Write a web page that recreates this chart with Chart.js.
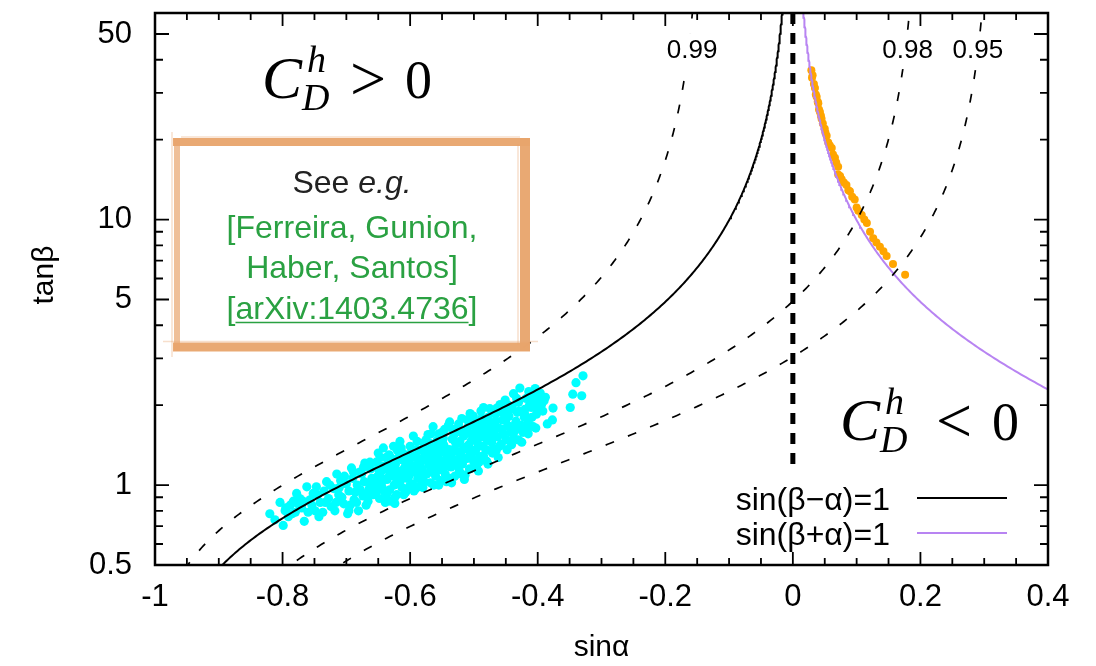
<!DOCTYPE html>
<html>
<head>
<meta charset="utf-8">
<script src="https://cdn.jsdelivr.net/npm/chart.js@4.4.1/dist/chart.umd.min.js"></script>
<style>
  html, body { margin: 0; padding: 0; background: #fff; }
  canvas { display: block; }
</style>
</head>
<body>
<canvas id="graficoTanBeta" width="1096" height="666"></canvas>
<script>
// axes
var sinAlphaTicks = [-1, -0.8, -0.6, -0.4, -0.2, 0, 0.2, 0.4];
var tanBetaTicks = [0.5, 1, 5, 10, 50];
var tanBetaMinor = [0.6, 0.7, 0.8, 0.9, 2, 3, 4, 6, 7, 8, 9, 20, 30, 40];

// contours sin(beta-alpha) = level, branch tells which side of alignment
var contourLevels = [0.99, 0.98, 0.95];
var contourBranch = [1, -1, -1];
var contourLabelX = [-0.158, 0.180, 0.290];
var contourLabelY = 43.5;

// scan points near sin(beta-alpha)=1  [sin alpha, tan beta]
var pointsMinusA = [
  [-0.820,0.78],[-0.812,0.74],[-0.804,0.86],[-0.799,0.705],[-0.796,0.80],[-0.791,0.76],[-0.788,0.84],
  [-0.783,0.87],[-0.780,0.79],[-0.776,0.85],[-0.773,0.89],[-0.770,0.82],[-0.766,0.73],[-0.762,0.985],
  [-0.760,0.79],[-0.757,0.88],[-0.754,0.84],[-0.749,0.80],[-0.747,0.985],[-0.745,0.92],[-0.741,0.86],
  [-0.737,0.79]
];
var pointsMinusB = [
  [-0.735,0.95],[-0.731,1.03],[-0.728,0.89],[-0.724,0.83],[-0.720,0.97],[-0.718,0.80],[-0.715,1.10],
  [-0.712,0.92],[-0.709,1.04],[-0.707,0.90],[-0.704,0.85],[-0.700,1.01],[-0.698,0.78],[-0.696,0.95],
  [-0.692,1.16],[-0.690,1.06],[-0.688,0.88],[-0.686,0.94],[-0.683,1.00],[-0.681,0.80],[-0.679,1.12],
  [-0.676,1.10],[-0.674,0.91],[-0.672,1.03],[-0.671,1.21],[-0.669,0.84],[-0.666,0.87],[-0.664,0.97],
  [-0.662,1.15],[-0.660,1.06]
];
var pointsMinusC = [
  [-0.658,0.92],[-0.655,0.99],[-0.653,1.22],[-0.651,1.08],[-0.650,1.32],[-0.648,0.89],[-0.646,1.12],
  [-0.645,1.02],[-0.643,1.18],[-0.641,0.95],[-0.639,0.86],[-0.638,1.27],[-0.636,1.05],[-0.634,1.14],
  [-0.632,0.96],[-0.631,0.87],[-0.629,1.26],[-0.627,1.09],[-0.625,1.00],[-0.623,1.20],[-0.621,0.92],
  [-0.620,1.35],[-0.618,1.13],[-0.616,1.46],[-0.615,1.04],[-0.613,0.98],[-0.611,1.24],[-0.609,1.16],
  [-0.607,0.94],[-0.605,0.96],[-0.604,1.30],[-0.602,1.08],[-0.600,1.40],[-0.598,1.19],[-0.596,1.01],
  [-0.595,1.53],[-0.593,1.12],[-0.591,0.97],[-0.590,1.27],[-0.588,1.06],[-0.586,1.35],[-0.585,0.99],
  [-0.583,1.22],[-0.581,1.15],[-0.579,1.44],[-0.578,1.03],[-0.576,1.30],[-0.574,1.10],[-0.572,1.55],
  [-0.570,1.19]
];
var pointsMinusD = [
  [-0.568,1.02],[-0.566,1.38],[-0.564,1.66],[-0.562,1.25],[-0.560,1.08],[-0.558,1.47],[-0.556,1.14],
  [-0.554,1.33],[-0.552,1.04],[-0.550,1.58],[-0.549,1.21],[-0.547,1.41],[-0.545,1.10],[-0.543,1.03],
  [-0.541,1.29],[-0.540,1.68],[-0.538,1.73],[-0.536,1.17],[-0.534,1.49],[-0.532,1.36],[-0.530,1.08],
  [-0.528,1.24],[-0.527,1.61],[-0.525,1.44],[-0.523,1.13],[-0.521,1.31],[-0.519,1.78],[-0.518,1.20],
  [-0.516,1.53],[-0.514,1.09],[-0.512,1.39],[-0.511,1.26],[-0.509,1.66],[-0.507,1.15],[-0.506,1.86],
  [-0.504,1.47],[-0.502,1.33],[-0.500,1.22],[-0.498,1.58],[-0.496,1.18],[-0.494,1.72],[-0.493,1.40],
  [-0.491,1.28],[-0.489,1.90],[-0.487,1.52],[-0.485,1.29],[-0.485,1.96],[-0.483,1.63],[-0.481,1.36],
  [-0.480,1.23]
];
var pointsMinusE = [
  [-0.478,1.80],[-0.476,1.47],[-0.475,1.94],[-0.473,1.58],[-0.471,1.32],[-0.470,1.37],[-0.468,1.70],
  [-0.466,1.85],[-0.465,1.35],[-0.463,1.52],[-0.461,1.64],[-0.459,2.01],[-0.457,1.43],[-0.455,1.76],
  [-0.454,1.55],[-0.452,1.90],[-0.451,2.09],[-0.449,1.48],[-0.447,1.67],[-0.445,1.82],[-0.443,1.58],
  [-0.441,1.42],[-0.440,1.97],[-0.438,2.21],[-0.436,1.60],[-0.434,1.74],[-0.432,1.88],[-0.430,2.05],
  [-0.428,2.32],[-0.426,1.68],[-0.423,1.58],[-0.421,1.80],[-0.420,1.93],[-0.418,2.12],[-0.415,1.72],
  [-0.413,2.00],[-0.410,1.96],[-0.408,2.22],[-0.407,1.66],[-0.404,2.31],[-0.402,2.15],[-0.402,1.85],
  [-0.398,2.06],[-0.394,2.01],[-0.390,2.08]
];
var pointsMinusF = [
  [-0.385,1.70],[-0.377,1.76],[-0.376,1.95],[-0.349,1.96],[-0.345,2.20],[-0.340,2.43],[-0.331,2.17],
  [-0.329,2.58]
];
var pointsMinusCore = [
  [-0.640,1.05],[-0.635,1.20],[-0.628,1.15],[-0.622,1.06],[-0.617,1.28],[-0.612,1.10],[-0.606,1.20],
  [-0.601,0.99],[-0.597,1.33],[-0.592,1.18],[-0.587,1.24],[-0.582,1.06],[-0.577,1.38],[-0.573,1.24],
  [-0.569,1.12],[-0.565,1.30],[-0.561,1.18],[-0.557,1.40],[-0.553,1.24],[-0.548,1.50],[-0.544,1.18],
  [-0.539,1.36],[-0.535,1.27],[-0.531,1.55],[-0.526,1.18],[-0.522,1.46],[-0.517,1.36],[-0.513,1.60],
  [-0.508,1.42],[-0.503,1.26],[-0.499,1.68],[-0.495,1.46],[-0.490,1.60],[-0.486,1.40],[-0.482,1.75],
  [-0.477,1.63],[-0.472,1.45]
];
var pointsMinusG = [
  [-0.795,0.82],[-0.785,0.78],[-0.778,0.93],[-0.768,0.87],[-0.752,0.93],[-0.743,0.76],[-0.733,0.86],
  [-0.726,1.00],[-0.716,0.86],[-0.711,0.98],[-0.703,1.08],[-0.694,0.84],[-0.689,1.12],[-0.684,0.86],
  [-0.678,0.96],[-0.673,1.17],[-0.668,0.93],[-0.663,1.22],[-0.657,1.04],[-0.652,0.95],[-0.647,1.27],
  [-0.642,1.38],[-0.637,0.92],[-0.633,1.30],[-0.626,1.40],[-0.624,0.90],[-0.619,1.02],[-0.614,1.38],
  [-0.610,0.92],[-0.603,1.14],[-0.599,1.27],[-0.594,0.95],[-0.589,1.46],[-0.584,1.12],[-0.580,0.98],
  [-0.575,1.48],[-0.571,1.35],[-0.567,1.56],[-0.563,1.00],[-0.559,1.28],[-0.555,1.56],[-0.551,1.15],
  [-0.546,1.62],[-0.542,1.25],[-0.537,1.06],[-0.533,1.62],[-0.529,1.45],[-0.524,1.70],[-0.520,1.10],
  [-0.515,1.25],[-0.510,1.76],[-0.505,1.56],[-0.501,1.82],[-0.497,1.36],[-0.492,1.22],[-0.488,1.78],
  [-0.484,1.52],[-0.479,1.48],[-0.474,1.72],[-0.469,1.58],[-0.464,1.95],[-0.460,1.40],[-0.456,1.62],
  [-0.450,1.75],[-0.446,2.00],[-0.442,1.66],[-0.437,1.50],[-0.433,2.12],[-0.429,1.90],[-0.425,1.45],
  [-0.419,1.62],[-0.414,2.25],[-0.409,1.80],[-0.405,2.05],[-0.400,1.95],[-0.396,2.22],[-0.392,1.90],
  [-0.388,2.14]
];
var pointsMinusH = [
  [-0.624,0.853],[-0.696,0.80],[-0.555,1.00],[-0.535,1.02],[-0.515,1.05],[-0.493,1.13],[-0.478,1.20],
  [-0.462,1.27],[-0.448,1.36],[-0.430,1.48],[-0.415,1.56],[-0.403,1.64],[-0.590,1.36],[-0.580,1.26],
  [-0.570,1.44],[-0.560,1.36],[-0.545,1.32],[-0.532,1.22],[-0.520,1.58],[-0.507,1.34],[-0.494,1.50],
  [-0.480,1.56],[-0.466,1.74],[-0.455,1.88],[-0.444,1.92],[-0.432,1.66],[-0.420,1.84],[-0.411,2.10],
  [-0.650,1.15],[-0.662,1.01],[-0.612,1.32],[-0.605,1.06],[-0.633,1.08],[-0.644,0.98],[-0.587,1.14],
  [-0.549,1.44],[-0.527,1.34],[-0.502,1.72],[-0.488,1.66],[-0.470,1.51]
];

// scan points near sin(beta+alpha)=1
var pointsPlus = [
  [0.029,36.5],[0.030,34.2],[0.031,35.0],[0.033,32.4],[0.0346,31.3],[0.036,29.6],[0.0373,29.0],
  [0.039,27.8],[0.0399,27.4],[0.041,26.0],[0.0425,25.4],[0.044,24.6],[0.045,24.0],[0.047,23.0],
  [0.050,22.0],[0.051,21.3],[0.053,20.7],[0.0555,19.5],[0.058,19.0],[0.061,18.6],[0.063,17.6],
  [0.066,17.1],[0.068,16.4],[0.071,15.8],[0.071,14.8],[0.074,14.6],[0.0765,14.2],[0.080,13.8],
  [0.084,13.5],[0.087,12.9],[0.0895,12.8],[0.093,12.2],[0.097,11.9],[0.100,11.1],[0.1025,10.8],
  [0.108,10.4],[0.112,10.0],[0.116,9.7],[0.121,9.0],[0.126,8.5],[0.131,8.2],[0.1365,7.9],
  [0.142,7.6],[0.147,7.3],[0.157,6.8],[0.176,6.2]
];

var FONTE = '"Liberation Sans", Arial, Helvetica, sans-serif';
var SERIFA = '"Liberation Serif", "Times New Roman", serif';

function toXY(lista) {
  return lista.map(function(p) { return { x: p[0], y: p[1] }; });
}

// tan(beta) along sin(beta-alpha)=level; branch picks beta-alpha = pi/2 + branch*delta
function curvaMenos(level, branch) {
  var delta = Math.acos(level);
  var pts = [];
  for (var i = 0; i <= 400; i++) {
    var t = 0.4 * Math.pow(250, i / 400);
    var beta = Math.atan(t);
    var alpha = beta - Math.PI / 2 - branch * delta;
    pts.push({ x: Math.sin(alpha), y: t });
  }
  return pts;
}

// tan(beta) along sin(beta+alpha)=1
function curvaMais() {
  var pts = [];
  for (var i = 0; i <= 400; i++) {
    var t = 0.4 * Math.pow(250, i / 400);
    var alpha = Math.PI / 2 - Math.atan(t);
    pts.push({ x: Math.sin(alpha), y: t });
  }
  return pts;
}

var datasets = [];

contourLevels.forEach(function(level, i) {
  datasets.push({
    data: curvaMenos(level, contourBranch[i]),
    showLine: true, pointRadius: 0, borderColor: '#000', borderWidth: 1.7,
    borderDash: [9, 15], order: 0
  });
});

datasets.push({
  data: curvaMenos(1, 0),
  showLine: true, pointRadius: 0, borderColor: '#000', borderWidth: 2, order: 0
});
datasets.push({
  data: curvaMais(),
  showLine: true, pointRadius: 0, borderColor: '#b884f2', borderWidth: 2, order: 0
});
datasets.push({
  data: [{ x: 0, y: 60 }, { x: 0, y: 1.12 }],
  showLine: true, pointRadius: 0, borderColor: '#000', borderWidth: 5,
  borderDash: [11, 9], order: 0
});
datasets.push({
  data: toXY([].concat(pointsMinusA, pointsMinusB, pointsMinusC, pointsMinusCore, pointsMinusG,
                       pointsMinusH, pointsMinusD, pointsMinusE, pointsMinusF)),
  pointRadius: 4.6, pointBorderWidth: 0, pointBackgroundColor: '#00ffff', order: 1
});
datasets.push({
  data: toXY(pointsPlus),
  pointRadius: 4, pointBorderWidth: 0, pointBackgroundColor: '#ffa500', order: 1
});

function drawCDh(ctx, x, base, rel, relX, zeroX) {
  ctx.fillStyle = '#000';
  ctx.textAlign = 'left';
  ctx.textBaseline = 'alphabetic';
  ctx.font = 'italic 60px ' + SERIFA;
  ctx.fillText('C', x, base);
  ctx.font = 'italic 38px ' + SERIFA;
  ctx.fillText('h', x + 45, base - 26);
  ctx.fillText('D', x + 40, base + 12);
  ctx.font = '64px ' + SERIFA;
  ctx.fillText(rel, x + relX, base + 2);
  ctx.font = '54px ' + SERIFA;
  ctx.fillText('0', x + zeroX, base);
}

function drawCaixa(ctx) {
  var x0 = 177, y0 = 142, x1 = 525, y1 = 347;
  ctx.save();
  ctx.lineCap = 'butt';
  var lados = [
    [x0 - 4, y0, x1 + 5, y0, 8, 0.95],
    [x1, y0 - 4, x1, y1 + 4, 10, 0.95],
    [x1 + 5, y1, x0 - 4, y1, 9, 0.95],
    [x0, y1 + 4, x0, y0 - 4, 6, 0.7]
  ];
  lados.forEach(function(l) {
    ctx.strokeStyle = 'rgba(232,164,108,' + l[5] + ')';
    ctx.lineWidth = l[4];
    ctx.beginPath(); ctx.moveTo(l[0], l[1]); ctx.lineTo(l[2], l[3]); ctx.stroke();
    ctx.strokeStyle = 'rgba(232,164,108,0.35)';
    ctx.lineWidth = 1.5;
    ctx.beginPath(); ctx.moveTo(l[0] + (l[1] === l[3] ? 8 : -l[4] / 2 - 2), l[1] + (l[1] === l[3] ? -l[4] / 2 - 1 : 6));
    ctx.lineTo(l[2] + (l[1] === l[3] ? -10 : -l[4] / 2 - 2), l[3] + (l[1] === l[3] ? -l[4] / 2 - 1 : -6));
    ctx.stroke();
  });
  ctx.restore();

  var cx = 352;
  ctx.textBaseline = 'alphabetic';
  ctx.textAlign = 'left';
  ctx.font = '32px ' + FONTE;
  var w1 = ctx.measureText('See ').width;
  ctx.font = 'italic 32px ' + FONTE;
  var w2 = ctx.measureText('e.g.').width;
  var sx = cx - (w1 + w2) / 2;
  ctx.fillStyle = '#222';
  ctx.font = '32px ' + FONTE;
  ctx.fillText('See ', sx, 193);
  ctx.font = 'italic 32px ' + FONTE;
  ctx.fillText('e.g.', sx + w1, 193);

  ctx.fillStyle = '#2aa142';
  ctx.font = '32px ' + FONTE;
  ctx.textAlign = 'center';
  ctx.fillText('[Ferreira, Gunion,', cx, 238);
  ctx.fillText('Haber, Santos]', cx, 278);
  ctx.fillText('[arXiv:1403.4736]', cx, 319);
  var total = ctx.measureText('[arXiv:1403.4736]').width;
  var wb = ctx.measureText('[').width;
  var wl = ctx.measureText('arXiv:1403.4736').width;
  var ux = cx - total / 2 + wb;
  ctx.strokeStyle = '#2aa142';
  ctx.lineWidth = 1.5;
  ctx.beginPath(); ctx.moveTo(ux, 322.5); ctx.lineTo(ux + wl, 322.5); ctx.stroke();
}

var decoracao = {
  id: 'decoracao',
  beforeDraw: function(chart) {
    var ctx = chart.ctx;
    ctx.save();
    ctx.fillStyle = '#fff';
    ctx.fillRect(0, 0, chart.width, chart.height);
    ctx.restore();
  },
  afterDatasetsDraw: function(chart) {
    var ctx = chart.ctx, a = chart.chartArea;
    var sx = chart.scales.x, sy = chart.scales.y;
    ctx.save();

    // contour labels on white patches
    ctx.font = '26px ' + FONTE;
    ctx.textAlign = 'center';
    ctx.textBaseline = 'middle';
    contourLevels.forEach(function(level, i) {
      var px = sx.getPixelForValue(contourLabelX[i]);
      var py = sy.getPixelForValue(contourLabelY);
      var txt = level.toFixed(2);
      var w = ctx.measureText(txt).width;
      ctx.fillStyle = '#fff';
      ctx.fillRect(px - w / 2 - 3, py - 17, w + 6, 36);
      ctx.fillStyle = '#000';
      ctx.fillText(txt, px, py + 1);
    });

    // legend
    ctx.font = '32px ' + FONTE;
    ctx.textAlign = 'right';
    ctx.textBaseline = 'alphabetic';
    ctx.fillStyle = '#000';
    ctx.fillText('sin(\u03b2\u2212\u03b1)=1', 890, 510);
    ctx.fillText('sin(\u03b2+\u03b1)=1', 890, 545);
    ctx.lineWidth = 2;
    ctx.strokeStyle = '#000';
    ctx.beginPath(); ctx.moveTo(917, 498); ctx.lineTo(1007, 498); ctx.stroke();
    ctx.strokeStyle = '#b884f2';
    ctx.beginPath(); ctx.moveTo(917, 533); ctx.lineTo(1007, 533); ctx.stroke();

    drawCaixa(ctx);
    drawCDh(ctx, 262, 98, '>', 88, 143);
    drawCDh(ctx, 840, 440, '<', 96, 152);

    // inward ticks on all four sides
    ctx.strokeStyle = '#000';
    ctx.lineWidth = 1.8;
    ctx.beginPath();
    for (var k = 0; k <= 28; k++) {
      var v = -1 + k * 0.05;
      var px = sx.getPixelForValue(v);
      var len = (k % 4 === 0) ? 13 : 7;
      ctx.moveTo(px, a.bottom); ctx.lineTo(px, a.bottom - len);
      ctx.moveTo(px, a.top); ctx.lineTo(px, a.top + len);
    }
    tanBetaTicks.forEach(function(v) {
      var py = sy.getPixelForValue(v);
      ctx.moveTo(a.left, py); ctx.lineTo(a.left + 14, py);
      ctx.moveTo(a.right, py); ctx.lineTo(a.right - 14, py);
    });
    tanBetaMinor.forEach(function(v) {
      var py = sy.getPixelForValue(v);
      ctx.moveTo(a.left, py); ctx.lineTo(a.left + 8, py);
      ctx.moveTo(a.right, py); ctx.lineTo(a.right - 8, py);
    });
    ctx.stroke();

    ctx.lineWidth = 2.5;
    ctx.strokeRect(a.left, a.top, a.right - a.left, a.bottom - a.top);

    // axis titles
    ctx.fillStyle = '#000';
    ctx.font = '30px ' + FONTE;
    ctx.textAlign = 'center';
    ctx.textBaseline = 'middle';
    ctx.fillText('sin\u03b1', (a.left + a.right) / 2, 648);
    ctx.translate(45, 275);
    ctx.rotate(-Math.PI / 2);
    ctx.fillText('tan\u03b2', 0, 0);
    ctx.restore();
  }
};

var grafico = new Chart(document.getElementById('graficoTanBeta').getContext('2d'), {
  type: 'scatter',
  data: { datasets: datasets },
  options: {
    responsive: false,
    animation: false,
    devicePixelRatio: 1,
    layout: { padding: { left: 0, top: 13, right: 48, bottom: 0 } },
    plugins: { legend: { display: false }, tooltip: { enabled: false } },
    scales: {
      x: {
        type: 'linear', min: -1, max: 0.4,
        afterBuildTicks: function(scale) {
          scale.ticks = sinAlphaTicks.map(function(v) { return { value: v }; });
        },
        afterFit: function(scale) {
          scale.height = 101;
          scale.paddingLeft = 0; scale.paddingRight = 0;
        },
        grid: { display: false, drawTicks: false },
        border: { display: false },
        ticks: {
          padding: 14, color: '#000', maxRotation: 0, autoSkip: false,
          font: { family: FONTE, size: 31 },
          callback: function(v) { return String(v); }
        }
      },
      y: {
        type: 'logarithmic', min: 0.5, max: 60,
        afterBuildTicks: function(scale) {
          scale.ticks = tanBetaTicks.map(function(v) { return { value: v }; });
        },
        afterFit: function(scale) {
          scale.width = 155;
          scale.paddingTop = 0; scale.paddingBottom = 0;
        },
        grid: { display: false, drawTicks: false },
        border: { display: false },
        ticks: {
          padding: 23, color: '#000', autoSkip: false,
          font: { family: FONTE, size: 31 },
          callback: function(v) { return String(v); }
        }
      }
    }
  },
  plugins: [decoracao]
});
</script>
</body>
</html>
